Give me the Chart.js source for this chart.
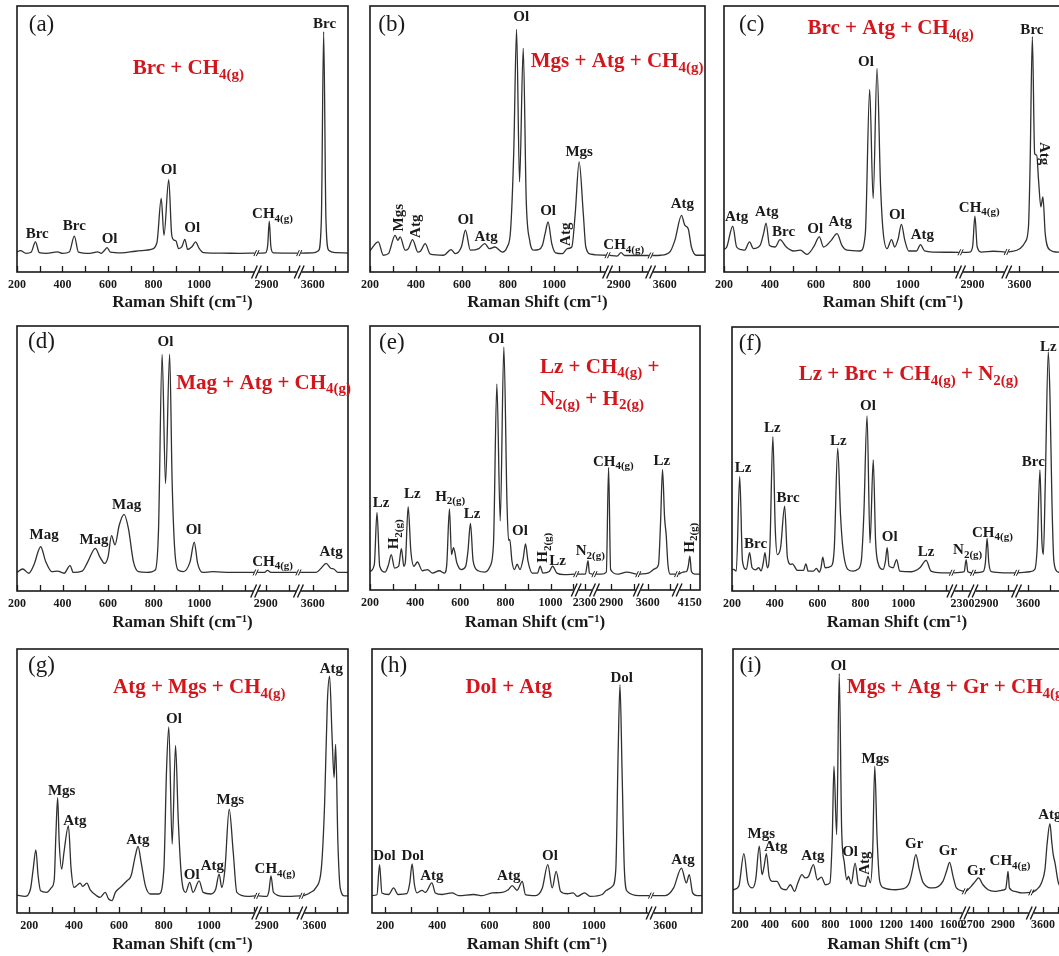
<!DOCTYPE html>
<html>
<head>
<meta charset="utf-8">
<script src="https://cdn.jsdelivr.net/npm/chart.js@4.4.1/dist/chart.umd.min.js"></script>
<style>
html, body { margin: 0; padding: 0; background: #fff; }
body { width: 1059px; height: 956px; overflow: hidden; position: relative; }
.panel { position: absolute; }
</style>
</head>
<body>
<script>

/*
 * Spectra: [Raman shift (cm-1), intensity (% of panel height)]
 */

const segmentsA = [[200, 1245], [2863, 3036], [3548, 3755]];
const spectrumA = [
    [200, 7.5], [215, 8.0], [240, 7.0], [262, 7.4], [281, 11.3], [298, 7.3], [330, 7.0], [378, 7.6],
    [400, 7.0], [430, 7.5], [452, 13.5], [470, 7.5], [520, 7.0], [555, 7.6], [570, 7.0], [585, 8.2],
    [596, 9.2], [610, 7.5], [660, 7.2], [720, 7.8], [760, 8.1], [790, 8.5], [815, 11.0], [834, 27.7],
    [846, 13.8], [867, 34.7], [880, 14.0], [890, 12.0], [899, 11.7], [910, 8.8], [925, 9.5], [938, 12.3],
    [950, 8.5], [970, 9.6], [985, 11.3], [1000, 9.0], [1020, 7.3], [1100, 7.1], [1180, 7.0], [1245, 7.1],
    [2863, 7.1], [2895, 7.2], [2905, 10.0], [2912, 19.1], [2919, 9.5], [2930, 7.2], [3036, 7.1],
    [3548, 7.1], [3600, 7.2], [3625, 8.0], [3638, 20.0], [3648, 90.3], [3658, 20.0], [3670, 8.2],
    [3700, 7.3], [3755, 7.1]
];

const segmentsB = [[200, 1225], [2859, 3031], [3546, 3775]];
const spectrumB = [
    [200, 8.0], [236, 11.3], [258, 6.3], [280, 6.9], [309, 13.8], [321, 11.9], [331, 13.2], [353, 8.2],
    [367, 8.8], [385, 12.2], [408, 7.5], [420, 7.9], [440, 10.7], [462, 6.7], [520, 6.3], [552, 8.4],
    [571, 6.9], [597, 9.4], [615, 15.7], [636, 8.2], [673, 8.8], [699, 10.7], [719, 8.8], [743, 9.4],
    [775, 7.5], [796, 9.4], [811, 15.7], [825, 45.8], [837, 91.2], [850, 33.9], [866, 84.1], [879, 27.0],
    [894, 11.9], [913, 8.2], [932, 8.4], [949, 10.0], [961, 14.4], [974, 18.8], [990, 10.7], [1007, 7.2],
    [1036, 6.9], [1058, 8.8], [1077, 9.4], [1092, 22.0], [1109, 41.4], [1127, 22.0], [1138, 9.4],
    [1160, 6.7], [1225, 6.3],
    [2859, 6.3], [2893, 6.0], [2910, 7.3], [2926, 6.2], [3031, 6.2],
    [3546, 6.2], [3582, 6.3], [3622, 7.5], [3644, 11.9], [3673, 21.3], [3687, 17.6], [3702, 16.3],
    [3716, 9.4], [3738, 6.3], [3775, 6.3]
];

const segmentsC = [[200, 1222], [2855, 3041], [3552, 3785]];
const spectrumC = [
    [200, 8.5], [212, 9.4], [238, 17.2], [255, 9.4], [277, 8.4], [290, 8.2], [311, 11.3], [328, 8.8],
    [357, 10.0], [372, 14.4], [383, 18.4], [398, 10.0], [423, 9.4], [444, 12.2], [471, 9.4], [503, 7.9],
    [532, 8.2], [561, 6.6], [590, 9.4], [615, 13.2], [633, 9.4], [665, 11.7], [692, 14.4], [713, 10.0],
    [735, 8.2], [793, 7.9], [815, 14.4], [834, 68.6], [849, 27.6], [866, 76.5], [881, 33.2], [892, 15.7],
    [910, 8.8], [929, 12.2], [943, 9.4], [958, 12.5], [972, 17.9], [987, 11.9], [1004, 7.9], [1038, 7.9],
    [1055, 10.3], [1073, 7.9], [1113, 7.5], [1222, 7.4],
    [2855, 7.4], [2888, 7.5], [2900, 9.5], [2910, 21.0], [2920, 9.4], [2939, 7.5], [2990, 7.8], [3041, 7.5],
    [3552, 7.5], [3603, 8.8], [3625, 11.3], [3639, 16.9], [3646, 39.5], [3656, 88.5], [3666, 44.5],
    [3675, 43.9], [3683, 34.5], [3693, 24.5], [3702, 28.2], [3712, 14.4], [3731, 8.4], [3770, 7.5],
    [3785, 7.5]
];

const segmentsD = [[200, 1240], [2863, 3036], [3545, 3755]];
const spectrumD = [
    [200, 7.0], [225, 8.3], [252, 6.7], [274, 9.8], [304, 16.7], [326, 11.1], [353, 7.3], [378, 7.5],
    [407, 6.7], [433, 9.6], [447, 7.0], [486, 7.5], [511, 11.1], [544, 16.1], [563, 13.0], [585, 10.4],
    [600, 13.0], [615, 20.9], [630, 17.4], [649, 24.9], [670, 28.9], [689, 23.6], [711, 11.1], [733, 7.3],
    [770, 7.0], [807, 7.9], [821, 22.4], [837, 89.3], [852, 40.6], [870, 89.3], [881, 41.3], [892, 16.1],
    [907, 7.9], [930, 7.3], [960, 11.1], [978, 18.4], [993, 10.4], [1015, 7.0], [1059, 7.3], [1140, 7.0],
    [1240, 7.0],
    [2863, 7.0], [2895, 7.0], [2907, 7.8], [2925, 7.0], [3036, 7.0],
    [3545, 7.0], [3615, 7.0], [3637, 8.6], [3659, 10.4], [3679, 8.6], [3693, 8.3], [3711, 7.0], [3755, 7.0]
];

const segmentsE = [[200, 1106], [2270, 2336], [2833, 3012], [3566, 3723], [4101, 4195]];
const spectrumE = [
    [200, 7.0], [219, 9.6], [231, 29.4], [243, 9.0], [267, 6.8], [282, 9.6], [294, 13.4], [309, 8.3],
    [327, 9.0], [339, 15.7], [350, 9.0], [357, 10.9], [369, 31.6], [381, 14.7], [395, 9.0], [410, 10.6],
    [432, 7.3], [455, 7.7], [477, 6.4], [507, 7.3], [530, 6.4], [540, 9.6], [552, 30.7], [561, 13.4],
    [570, 16.0], [585, 10.2], [604, 7.7], [624, 9.0], [634, 14.7], [645, 25.2], [657, 10.9], [679, 7.3],
    [709, 6.8], [732, 9.0], [747, 17.3], [762, 78.0], [777, 26.2], [793, 92.0], [807, 32.6], [814, 18.8],
    [819, 19.2], [829, 10.9], [840, 7.7], [852, 9.8], [864, 7.7], [879, 12.1], [889, 17.5], [900, 10.9],
    [919, 6.4], [942, 6.4], [954, 9.0], [966, 6.4], [994, 7.0], [1009, 9.0], [1028, 6.4], [1061, 5.8],
    [1106, 6.0],
    [2270, 6.0], [2303, 6.0], [2315, 11.1], [2321, 6.4], [2336, 6.0],
    [2833, 6.0], [2855, 6.0], [2878, 6.8], [2888, 46.4], [2897, 7.7], [2930, 6.0], [2968, 6.8], [3012, 6.0],
    [3566, 6.0], [3603, 6.4], [3633, 8.1], [3648, 9.6], [3657, 24.9], [3666, 45.7], [3675, 27.5],
    [3682, 21.1], [3690, 9.6], [3700, 6.0], [3723, 6.0],
    [4101, 6.0], [4120, 6.8], [4135, 7.0], [4143, 9.0], [4150, 12.8], [4157, 7.0], [4172, 6.0], [4195, 6.0]
];

const segmentsF = [[200, 1220], [2258, 2342], [2845, 3033], [3553, 3758]];
const spectrumF = [
    [200, 8.0], [208, 8.2], [220, 7.5], [236, 43.4], [249, 11.3], [267, 8.2], [282, 14.5], [294, 8.8],
    [310, 8.0], [325, 8.8], [336, 7.6], [346, 10.7], [354, 14.5], [365, 8.8], [377, 16.4], [391, 58.5],
    [402, 23.9], [412, 13.8], [427, 16.4], [446, 32.1], [459, 12.6], [475, 10.1], [482, 10.3], [506, 7.8],
    [534, 7.8], [545, 10.3], [556, 7.5], [581, 7.5], [594, 8.6], [608, 7.2], [616, 8.8], [624, 12.8],
    [635, 8.8], [663, 9.4], [678, 16.4], [694, 54.1], [707, 28.9], [718, 16.4], [741, 8.2], [766, 7.5],
    [788, 8.2], [804, 11.3], [816, 28.9], [831, 66.3], [845, 18.2], [860, 49.7], [871, 18.9], [882, 10.7],
    [906, 8.2], [917, 11.3], [925, 16.4], [934, 9.4], [953, 8.8], [969, 11.9], [984, 7.5], [1039, 7.3],
    [1078, 8.8], [1107, 11.6], [1130, 7.5], [1180, 6.9], [1220, 6.9],
    [2258, 6.9], [2308, 7.3], [2317, 11.9], [2325, 7.3], [2342, 6.9],
    [2845, 6.9], [2884, 7.3], [2895, 10.7], [2903, 19.9], [2911, 10.7], [2923, 7.3], [2980, 6.9], [3033, 6.9],
    [3553, 6.9], [3608, 7.3], [3631, 8.2], [3642, 16.4], [3655, 45.9], [3664, 18.9], [3671, 13.8],
    [3680, 41.5], [3694, 90.6], [3702, 73.0], [3711, 34.0], [3720, 11.3], [3737, 7.3], [3758, 6.9]
];

const segmentsG = [[146, 1206], [2863, 3049], [3551, 3749]];
const spectrumG = [
    [146, 6.8], [181, 6.3], [206, 9.1], [218, 16.6], [230, 23.9], [240, 14.1], [251, 8.4], [278, 7.8],
    [300, 9.7], [312, 12.8], [319, 29.2], [327, 43.7], [334, 26.7], [345, 16.6], [355, 22.9], [375, 33.0],
    [387, 16.6], [400, 9.7], [415, 10.6], [427, 11.3], [439, 10.1], [457, 11.3], [472, 8.8], [501, 6.5],
    [516, 5.9], [539, 7.8], [554, 5.3], [569, 4.7], [584, 7.8], [606, 9.7], [636, 12.2], [654, 14.1],
    [673, 21.7], [685, 25.2], [699, 19.1], [718, 10.3], [740, 7.2], [778, 7.2], [800, 16.6], [812, 54.4],
    [822, 70.5], [837, 26.1], [852, 63.5], [864, 35.5], [878, 14.1], [897, 7.8], [915, 11.6], [930, 7.8],
    [957, 12.2], [975, 7.8], [1009, 7.2], [1031, 9.1], [1046, 14.7], [1058, 9.7], [1072, 16.6],
    [1091, 39.3], [1109, 22.9], [1125, 7.8], [1173, 6.3], [1206, 6.5],
    [2863, 6.5], [2900, 6.3], [2910, 8.4], [2919, 14.1], [2930, 7.8], [2975, 6.3], [3049, 6.5],
    [3551, 6.5], [3578, 7.6], [3607, 9.7], [3630, 16.6], [3645, 41.8], [3657, 79.6], [3667, 89.7],
    [3678, 67.0], [3687, 51.3], [3694, 63.9], [3704, 26.7], [3715, 9.1], [3734, 6.5], [3749, 6.5]
];

const segmentsH = [[149, 1213], [3553, 3741]];
const spectrumH = [
    [149, 6.6], [168, 6.9], [178, 18.3], [187, 7.6], [213, 7.0], [232, 9.5], [249, 7.0], [283, 7.3],
    [294, 11.4], [303, 18.6], [312, 10.7], [322, 7.6], [341, 8.6], [354, 7.8], [379, 11.4], [392, 7.6],
    [418, 7.0], [456, 7.6], [482, 6.6], [540, 7.0], [572, 6.6], [610, 7.6], [649, 7.8], [672, 8.8],
    [687, 10.4], [706, 8.6], [726, 12.0], [738, 7.0], [777, 6.6], [803, 9.5], [824, 18.3], [841, 9.5],
    [856, 15.8], [873, 8.2], [899, 7.3], [921, 7.6], [937, 6.3], [965, 7.6], [988, 6.3], [1033, 7.0],
    [1049, 8.6], [1072, 10.1], [1085, 16.4], [1094, 60.6], [1101, 86.5], [1109, 54.3], [1118, 16.4],
    [1129, 8.2], [1174, 6.6], [1213, 6.6],
    [3553, 6.6], [3600, 6.6], [3632, 9.5], [3662, 17.0], [3681, 11.4], [3692, 14.5], [3705, 7.6],
    [3722, 6.6], [3741, 6.6]
];

const segmentsI = [[155, 1682], [2655, 3079], [3529, 3725]];
const spectrumI = [
    [155, 8.8], [193, 10.1], [227, 22.5], [254, 11.4], [283, 9.5], [305, 12.6], [329, 25.3], [347, 14.5],
    [361, 17.7], [376, 22.5], [394, 13.9], [417, 12.0], [446, 12.0], [472, 9.5], [506, 8.8], [535, 10.7],
    [562, 8.2], [584, 11.4], [611, 14.5], [633, 13.3], [655, 13.9], [687, 18.3], [713, 12.6], [740, 13.6],
    [767, 10.7], [796, 11.4], [812, 29.0], [823, 55.6], [841, 29.7], [858, 90.7], [874, 31.6], [892, 18.9],
    [908, 12.6], [919, 13.9], [937, 11.1], [963, 18.9], [986, 10.7], [1030, 10.1], [1048, 13.9],
    [1064, 11.4], [1079, 22.7], [1093, 55.6], [1108, 29.0], [1126, 12.0], [1153, 9.5], [1231, 8.8],
    [1276, 9.1], [1321, 11.4], [1343, 16.4], [1365, 22.1], [1388, 16.4], [1414, 11.4], [1477, 9.5],
    [1544, 12.0], [1571, 16.4], [1588, 19.2], [1611, 13.9], [1633, 9.5], [1682, 8.2],
    [2655, 8.2], [2689, 10.1], [2716, 12.0], [2738, 13.3], [2767, 10.7], [2801, 8.8], [2845, 8.2],
    [2890, 8.6], [2917, 9.1], [2926, 12.6], [2933, 15.8], [2942, 9.5], [2978, 8.2], [3022, 7.6], [3079, 7.8],
    [3529, 7.8], [3556, 8.8], [3589, 11.4], [3612, 16.4], [3627, 26.5], [3645, 33.8], [3658, 26.5],
    [3667, 22.1], [3679, 18.9], [3701, 11.4], [3725, 9.5]
];

/*
 * Tick values and labels
 */

const ticksStd = [200, 300, 400, 500, 600, 700, 800, 900, 1000, 1100, 1200, 2900, 3000, 3600, 3700];
const tickLabelsStd = ['200', '', '400', '', '600', '', '800', '', '1000', '', '', '2900', '', '3600', ''];

const ticksE = [200, 300, 400, 500, 600, 700, 800, 900, 1000, 1100, 2300, 2900, 3000, 3600, 3700, 4150];
const tickLabelsE = ['200', '', '400', '', '600', '', '800', '', '1000', '', '2300', '2900', '', '3600', '', '4150'];

const ticksF = [200, 300, 400, 500, 600, 700, 800, 900, 1000, 1100, 1200, 2300, 2900, 3000, 3600, 3700];
const tickLabelsF = ['200', '', '400', '', '600', '', '800', '', '1000', '', '', '2300', '2900', '', '3600', ''];

const ticksH = [200, 300, 400, 500, 600, 700, 800, 900, 1000, 1100, 1200, 3600, 3700];
const tickLabelsH = ['200', '', '400', '', '600', '', '800', '', '1000', '', '', '3600', ''];

const ticksI = [200, 300, 400, 500, 600, 700, 800, 900, 1000, 1100, 1200, 1300, 1400, 1500, 1600,
    2700, 2800, 2900, 3000, 3600, 3700];
const tickLabelsI = ['200', '', '400', '', '600', '', '800', '', '1000', '', '1200', '', '1400', '', '1600',
    '2700', '', '2900', '', '3600', ''];

/*
 * Peak labels: [text, Raman shift, intensity, rotation]
 */

const peaksA = [['Brc', 289, 14.2], ['Brc', 452, 17.2], ['Ol', 607, 12.3], ['Ol', 867, 38.2], ['Ol', 970, 16.6],
    ['CH_{4(g)}', 2926, 21.6], ['Brc', 3652, 93]];
const peaksB = [['Mgs', 327, 20.4, -90], ['Atg', 401, 17.2, -90], ['Ol', 615, 19.4], ['Atg', 705, 13.2],
    ['Ol', 857, 96], ['Ol', 974, 23], ['Atg', 1054, 14.2, -90], ['Mgs', 1109, 45.2], ['CH_{4(g)}', 2922, 10],
    ['Atg', 3677, 25.7]];
const peaksC = [['Atg', 255, 20.7], ['Atg', 386, 22.6], ['Brc', 459, 15], ['Ol', 597, 16.3], ['Atg', 706, 18.8],
    ['Ol', 818, 79], ['Ol', 953, 21.3], ['Atg', 1063, 13.8], ['CH_{4(g)}', 2929, 24.2], ['Brc', 3654, 91],
    ['Atg', 3708, 44.5, 90]];
const peaksD = [['Mag', 319, 21.1], ['Mag', 538, 19.2], ['Mag', 681, 32.5], ['Ol', 852, 94], ['Ol', 975, 23],
    ['CH_{4(g)}', 2930, 11], ['Atg', 3681, 14.8]];
const peaksE = [['Lz', 249, 33], ['H_{2(g)}', 309, 21.1, -90], ['Lz', 387, 36.4], ['H_{2(g)}', 555, 35.2],
    ['Lz', 652, 28.8], ['Ol', 759, 95], ['Ol', 864, 22.4], ['H_{2(g)}', 969, 16, -90], ['Lz', 1031, 10.9],
    ['N_{2(g)}', 2325, 14.7], ['CH_{4(g)}', 2909, 48.6], ['Lz', 3663, 49], ['H_{2(g)}', 4150, 19.8, -90]];
const peaksF = [['Lz', 252, 46.5], ['Brc', 310, 17.6], ['Lz', 388, 61.6], ['Brc', 462, 35], ['Lz', 697, 56.9],
    ['Ol', 835, 70.2], ['Ol', 937, 20.4], ['Lz', 1107, 14.7], ['N_{2(g)}', 2324, 15.3], ['CH_{4(g)}', 2928, 22],
    ['Brc', 3624, 49], ['Lz', 3694, 92.5]];
const peaksG = [['Mgs', 345, 46.2], ['Atg', 404, 34.9], ['Atg', 684, 27.7], ['Ol', 845, 73.3], ['Ol', 924, 14.4],
    ['Atg', 1016, 17.9], ['Mgs', 1096, 42.7], ['CH_{4(g)}', 2937, 16.6], ['Atg', 3675, 92.2]];
const peaksH = [['Dol', 197, 21.7], ['Dol', 305, 21.7], ['Atg', 379, 13.9], ['Atg', 674, 14.1], ['Ol', 832, 21.7],
    ['Dol', 1108, 89], ['Atg', 3668, 20.2]];
const peaksI = [['Mgs', 342, 29.7], ['Atg', 439, 25], ['Atg', 684, 21.5], ['Ol', 852, 93.7], ['Ol', 930, 23],
    ['Atg', 1030, 18.9, -90], ['Mgs', 1097, 58.3], ['Gr', 1354, 25.9], ['Gr', 1577, 23.4], ['Gr', 2722, 15.8],
    ['CH_{4(g)}', 2946, 19.6], ['Atg', 3645, 36.9]];

/*
 * Panel titles
 */

const titleA = ['Brc + CH_{4(g)}'];
const titleB = ['Mgs + Atg + CH_{4(g)}'];
const titleC = ['Brc + Atg + CH_{4(g)}'];
const titleD = ['Mag + Atg + CH_{4(g)}'];
const titleE = ['Lz + CH_{4(g)} +', 'N_{2(g)} + H_{2(g)}'];
const titleF = ['Lz + Brc + CH_{4(g)} + N_{2(g)}'];
const titleG = ['Atg + Mgs + CH_{4(g)}'];
const titleH = ['Dol + Atg'];
const titleI = ['Mgs + Atg + Gr + CH_{4(g)}'];


/*
 * Layout (frame in page px, offsets below the axis, positions as chart-area fractions)
 */

const SERIF = '"Liberation Serif", "Times New Roman", serif';
const RED = '#d4161c';
const INK = '#1a1a1a';
const GAP = 15;
const PAD_X = 16;
const PAD_T = 4;

const panels = [
    { letter: '(a)', segments: segmentsA, spectrum: spectrumA, ticks: ticksStd, tickLabels: tickLabelsStd, peaks: peaksA, title: titleA,
        frame: [17, 6, 348, 272], tickOff: 13, titleOff: 30, letterAt: [0.074, 0.07], titleAt: [0.35, 0.236] },
    { letter: '(b)', segments: segmentsB, spectrum: spectrumB, ticks: ticksStd, tickLabels: tickLabelsStd, peaks: peaksB, title: titleB,
        frame: [370, 6, 705, 272], tickOff: 13, titleOff: 30, letterAt: [0.065, 0.072], titleAt: [0.48, 0.21] },
    { letter: '(c)', segments: segmentsC, spectrum: spectrumC, ticks: ticksStd, tickLabels: tickLabelsStd, peaks: peaksC, title: titleC,
        frame: [724, 6, 1062, 272], tickOff: 13, titleOff: 30, letterAt: [0.082, 0.072], titleAt: [0.247, 0.084] },
    { letter: '(d)', segments: segmentsD, spectrum: spectrumD, ticks: ticksStd, tickLabels: tickLabelsStd, peaks: peaksD, title: titleD,
        frame: [17, 326, 348, 591], tickOff: 13, titleOff: 31, letterAt: [0.074, 0.06], titleAt: [0.481, 0.216] },
    { letter: '(e)', segments: segmentsE, spectrum: spectrumE, ticks: ticksE, tickLabels: tickLabelsE, peaks: peaksE, title: titleE,
        frame: [370, 326, 700, 590], tickOff: 13, titleOff: 32, letterAt: [0.066, 0.066], titleAt: [0.515, 0.156, 0.121] },
    { letter: '(f)', segments: segmentsF, spectrum: spectrumF, ticks: ticksF, tickLabels: tickLabelsF, peaks: peaksF, title: titleF,
        frame: [732, 327, 1062, 591], tickOff: 13, titleOff: 31, letterAt: [0.055, 0.063], titleAt: [0.202, 0.182] },
    { letter: '(g)', segments: segmentsG, spectrum: spectrumG, ticks: ticksStd, tickLabels: tickLabelsStd, peaks: peaksG, title: titleG,
        frame: [17, 649, 348, 913], tickOff: 13, titleOff: 31, letterAt: [0.074, 0.066], titleAt: [0.29, 0.147] },
    { letter: '(h)', segments: segmentsH, spectrum: spectrumH, ticks: ticksH, tickLabels: tickLabelsH, peaks: peaksH, title: titleH,
        frame: [372, 649, 702, 913], tickOff: 13, titleOff: 31, letterAt: [0.066, 0.066], titleAt: [0.283, 0.148] },
    { letter: '(i)', segments: segmentsI, spectrum: spectrumI, ticks: ticksI, tickLabels: tickLabelsI, peaks: peaksI, title: titleI,
        frame: [733, 649, 1062, 913], tickOff: 12, titleOff: 31, letterAt: [0.053, 0.066], titleAt: [0.346, 0.148] }
];


/*
 * Broken axis: Raman shift -> position along the x scale
 */

function makeAxis(segments) {

    const offsets = [];
    let acc = 0;

    segments.forEach(([a, b]) => {
        offsets.push(acc);
        acc += (b - a) + GAP;
    });

    const segOf = (x) => {
        let best = 0, dist = Infinity;
        segments.forEach(([a, b], i) => {
            const d = x < a ? a - x : (x > b ? x - b : 0);
            if (d < dist) { dist = d; best = i; }
        });
        return best;
    };

    const pos = (x) => {
        const i = segOf(x);
        return offsets[i] + (x - segments[i][0]);
    };

    return { offsets, segOf, pos, total: acc - GAP };
}


/*
 * Text with subscripts written as _{...}
 */

function parseRich(text) {
    const runs = [];
    const re = /_\{([^}]*)\}/g;
    let last = 0, m;
    while ((m = re.exec(text))) {
        if (m.index > last) runs.push({ t: text.slice(last, m.index), sub: false });
        runs.push({ t: m[1], sub: true });
        last = re.lastIndex;
    }
    if (last < text.length) runs.push({ t: text.slice(last), sub: false });
    return runs;
}

function drawRich(ctx, text, x, y, size, color, align, rot) {
    const runs = parseRich(text);
    const mainFont = `bold ${size}px ${SERIF}`;
    const subFont = `bold ${Math.round(size * 0.72)}px ${SERIF}`;
    let w = 0;
    runs.forEach(r => {
        ctx.font = r.sub ? subFont : mainFont;
        r.w = ctx.measureText(r.t).width;
        w += r.w;
    });
    ctx.save();
    ctx.translate(x, y);
    if (rot) ctx.rotate(rot * Math.PI / 180);
    let cx = align === 'left' ? 0 : -w / 2;
    ctx.fillStyle = color;
    ctx.textBaseline = 'middle';
    ctx.textAlign = 'left';
    runs.forEach(r => {
        ctx.font = r.sub ? subFont : mainFont;
        ctx.fillText(r.t, cx, r.sub ? size * 0.3 : 0);
        cx += r.w;
    });
    ctx.restore();
}

function slashes(ctx, x, y, h, spread) {
    ctx.beginPath();
    [-spread / 2, spread / 2].forEach(d => {
        ctx.moveTo(x + d - h * 0.45, y + h);
        ctx.lineTo(x + d + h * 0.45, y - h);
    });
    ctx.stroke();
}


/*
 * Frame, inward ticks, axis breaks, labels
 */

const ramanPlugin = {

    id: 'raman',

    afterDraw(chart, args, opts) {

        const p = opts.panel;
        const { ctx, chartArea: area } = chart;
        const xs = chart.scales.x;
        const ys = chart.scales.y;

        ctx.save();
        ctx.strokeStyle = INK;
        ctx.lineWidth = 1.6;
        ctx.strokeRect(area.left, area.top, area.right - area.left, area.bottom - area.top);

        ctx.lineWidth = 1.3;
        ctx.beginPath();
        xs.ticks.forEach(t => {
            const px = Math.round(xs.getPixelForValue(t.value)) + 0.5;
            ctx.moveTo(px, area.bottom);
            ctx.lineTo(px, area.bottom - 6);
        });
        ctx.stroke();

        p.breaks.forEach(b => {
            const px = xs.getPixelForValue(b.pos);
            ctx.fillStyle = '#fff';
            ctx.fillRect(px - 2.5, area.bottom - 1.5, 5, 3);
            ctx.lineWidth = 1.4;
            slashes(ctx, px, area.bottom, 6.5, 4);
            ctx.lineWidth = 1;
            slashes(ctx, px, ys.getPixelForValue(b.y), 3, 2.5);
        });

        p.peaks.forEach(([text, x, y, rot]) => {
            drawRich(ctx, text, xs.getPixelForValue(p.axis.pos(x)), ys.getPixelForValue(y), 15, INK, 'center', rot || 0);
        });

        const w = area.right - area.left;
        const h = area.bottom - area.top;

        ctx.font = `23px ${SERIF}`;
        ctx.fillStyle = INK;
        ctx.textAlign = 'center';
        ctx.textBaseline = 'middle';
        ctx.fillText(p.letter, area.left + p.letterAt[0] * w, area.top + p.letterAt[1] * h);

        const step = p.titleAt[2] || 0;
        p.title.forEach((line, i) => {
            drawRich(ctx, line, area.left + p.titleAt[0] * w, area.top + (p.titleAt[1] + i * step) * h, 21, RED, 'left', 0);
        });

        ctx.restore();
    }
};


/*
 * Build one chart per panel
 */

panels.forEach(p => {

    const axis = makeAxis(p.segments);
    p.axis = axis;

    const data = [];
    let seg = -1;
    p.spectrum.forEach(([x, y]) => {
        const s = axis.segOf(x);
        if (seg >= 0 && s !== seg) data.push({ x: axis.offsets[s] - GAP / 2, y: null });
        seg = s;
        data.push({ x: axis.pos(x), y });
    });

    p.breaks = [];
    for (let i = 1; i < p.segments.length; i++) {
        const before = p.spectrum.filter(([x]) => axis.segOf(x) === i - 1).pop();
        const after = p.spectrum.find(([x]) => axis.segOf(x) === i);
        p.breaks.push({ pos: axis.offsets[i] - GAP / 2, y: (before[1] + after[1]) / 2 });
    }

    const [L, T, R, B] = p.frame;
    const axisH = Math.round(p.titleOff + 10.5);
    const width = (R - L) + 2 * PAD_X;
    const height = (B - T) + PAD_T + axisH;

    const box = document.createElement('div');
    box.className = 'panel';
    box.style.left = (L - PAD_X) + 'px';
    box.style.top = (T - PAD_T) + 'px';
    const canvas = document.createElement('canvas');
    canvas.width = width;
    canvas.height = height;
    canvas.style.width = width + 'px';
    canvas.style.height = height + 'px';
    box.appendChild(canvas);
    document.body.appendChild(box);

    new Chart(canvas, {

        type: 'line',

        data: {
            datasets: [{
                data,
                borderColor: '#303030',
                borderWidth: 1.3,
                pointRadius: 0,
                fill: false,
                spanGaps: false,
                cubicInterpolationMode: 'monotone'
            }]
        },

        options: {
            responsive: false,
            animation: false,
            devicePixelRatio: 1,
            layout: { padding: { left: PAD_X, right: PAD_X, top: PAD_T, bottom: 0 } },
            plugins: {
                legend: { display: false },
                tooltip: { enabled: false },
                raman: { panel: p }
            },
            scales: {
                x: {
                    type: 'linear',
                    min: 0,
                    max: axis.total,
                    grid: { display: false, drawTicks: false, tickLength: 0 },
                    border: { display: false },
                    afterBuildTicks: (scale) => {
                        scale.ticks = p.ticks.map(t => ({ value: axis.pos(t) }));
                    },
                    afterFit: (scale) => {
                        scale.height = axisH;
                    },
                    ticks: {
                        autoSkip: false,
                        maxRotation: 0,
                        minRotation: 0,
                        padding: p.tickOff - 7.2,
                        color: INK,
                        font: { family: SERIF, size: 12, weight: 'bold' },
                        callback: (v, i) => p.tickLabels[i]
                    },
                    title: {
                        display: true,
                        text: 'Raman Shift (cm\u207B\u00B9)',
                        color: INK,
                        font: { family: SERIF, size: 17, weight: 'bold' },
                        padding: 0
                    }
                },
                y: { display: false, min: 0, max: 100 }
            }
        },

        plugins: [ramanPlugin]
    });
});

</script>
</body>
</html>
